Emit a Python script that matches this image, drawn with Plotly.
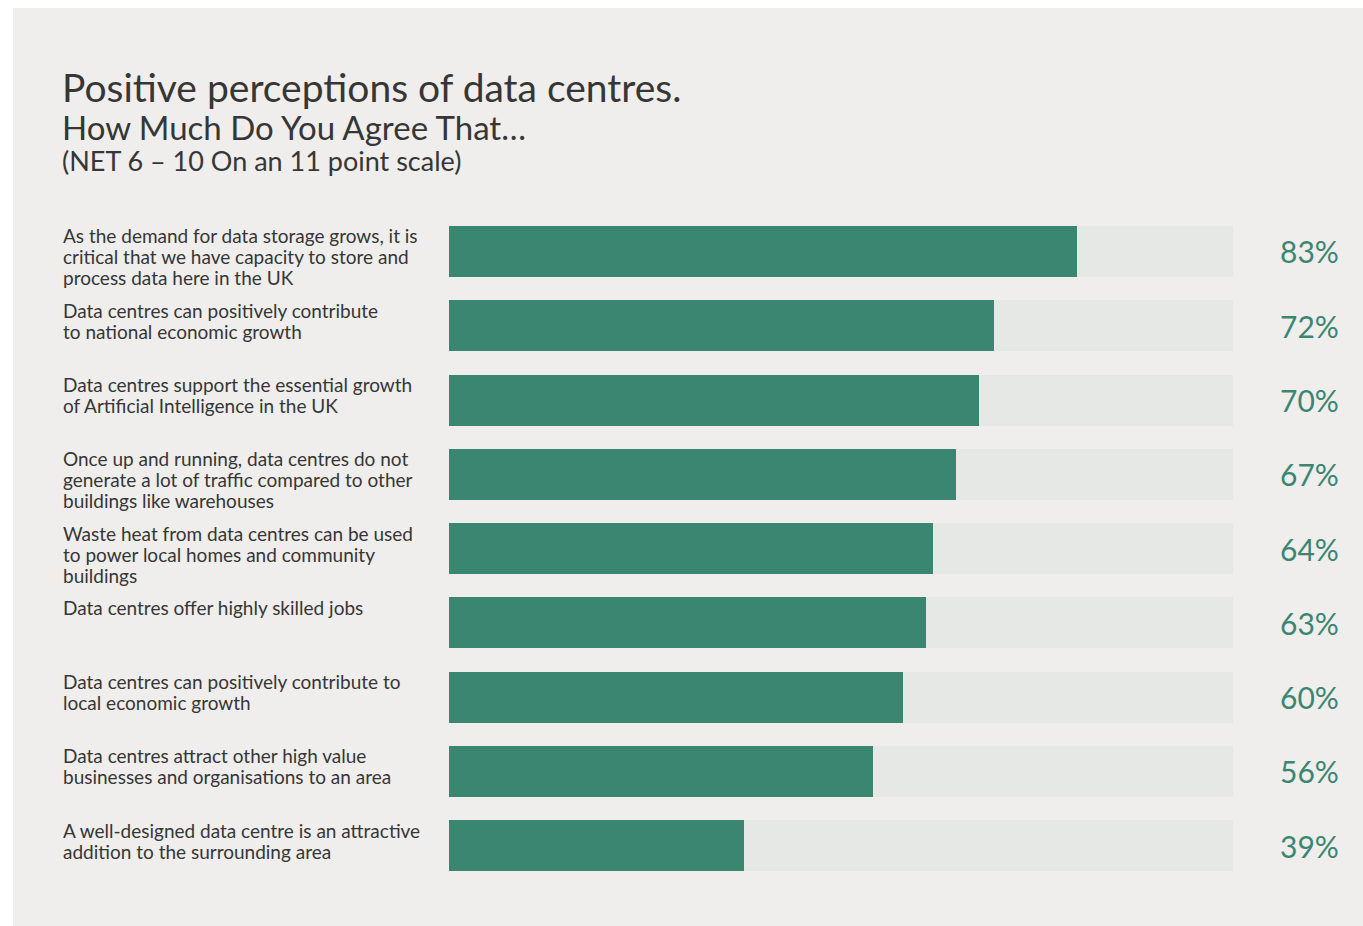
import plotly.graph_objects as go

# Survey statements and share agreeing (NET 6-10 on an 11 point scale)
statements = [
    "As the demand for data storage grows, it is<br>critical that we have capacity to store and<br>process data here in the UK",
    "Data centres can positively contribute<br>to national economic growth",
    "Data centres support the essential growth<br>of Artificial Intelligence in the UK",
    "Once up and running, data centres do not<br>generate a lot of traffic compared to other<br>buildings like warehouses",
    "Waste heat from data centres can be used<br>to power local homes and community<br>buildings",
    "Data centres offer highly skilled jobs",
    "Data centres can positively contribute to<br>local economic growth",
    "Data centres attract other high value<br>businesses and organisations to an area",
    "A well-designed data centre is an attractive<br>addition to the surrounding area",
]
agree_pct = [83, 72, 70, 67, 64, 63, 60, 56, 39]

W, H = 1363, 926
FONT = "Lato, 'Open Sans', sans-serif"
TEXT = "#363636"
GREEN = "#3A8671"
TRACK_COLOR = "#E6E8E6"
PANEL = "#EFEEEC"

# Axis scale: 0-100% maps onto 449..1205.6 px, track runs to the axis end
x_left, x_right = 449, 1233
px_per_pct = 7.565
x_max = (x_right - x_left) / px_per_pct

rows = list(range(len(agree_pct)))
bar_w = 0.687
row_px = 74.25
first_center = 251.5
plot_top, plot_bot = 200, 900
y_top = -(first_center - plot_top) / row_px
y_bot = (len(rows) - 1) + (plot_bot - (first_center + row_px * (len(rows) - 1))) / row_px

# statement text: first line sits just under the bar top, fixed line pitch
label_first_px = 10
label_pitch_px = 21

fig = go.Figure()
fig.add_trace(go.Bar(
    x=[x_max] * len(rows), y=rows, orientation="h", width=bar_w,
    marker=dict(color=TRACK_COLOR, line=dict(width=0)),
    hoverinfo="skip", showlegend=False,
))
fig.add_trace(go.Bar(
    x=agree_pct, y=rows, orientation="h", width=bar_w,
    marker=dict(color=GREEN, line=dict(width=0)),
    showlegend=False,
))

annotations = []
for i, (s, v) in enumerate(zip(statements, agree_pct)):
    for k, line in enumerate(s.split("<br>")):
        annotations.append(dict(
            text=line, x=61 / W, xref="paper", xanchor="left",
            y=i - bar_w / 2 + (label_first_px + label_pitch_px * k) / row_px,
            yref="y", yanchor="middle", align="left",
            showarrow=False, font=dict(family=FONT, size=19, color=TEXT),
        ))
    annotations.append(dict(
        text=f"{v}%", x=1341 / W, xref="paper", xanchor="right",
        y=i, yref="y", yanchor="middle",
        showarrow=False, font=dict(family=FONT, size=30, color=GREEN),
    ))

titles = [
    ("Positive perceptions of data centres.", 39, 87),
    ("How Much Do You Agree That…", 33, 127),
    ("(NET 6 – 10 On an 11 point scale)", 27, 160),
]
for t, size, mid in titles:
    annotations.append(dict(
        text=t, x=60 / W, xref="paper", xanchor="left",
        y=1 - mid / H, yref="paper", yanchor="middle",
        showarrow=False, font=dict(family=FONT, size=size, color=TEXT),
    ))

fig.update_layout(
    width=W, height=H,
    margin=dict(l=0, r=0, t=0, b=0),
    paper_bgcolor="white", plot_bgcolor="rgba(0,0,0,0)",
    barmode="overlay", bargap=0,
    xaxis=dict(domain=[x_left / W, x_right / W], range=[0, x_max],
               visible=False, fixedrange=True),
    yaxis=dict(domain=[1 - plot_bot / H, 1 - plot_top / H], range=[y_bot, y_top],
               visible=False, fixedrange=True),
    shapes=[dict(type="rect", xref="paper", yref="paper",
                 x0=13 / W, x1=1, y0=0, y1=1 - 8 / H,
                 fillcolor=PANEL, line=dict(width=0), layer="below")],
    annotations=annotations,
    font=dict(family=FONT, color=TEXT),
)

fig.write_html("out.html", config={"displayModeBar": False})
